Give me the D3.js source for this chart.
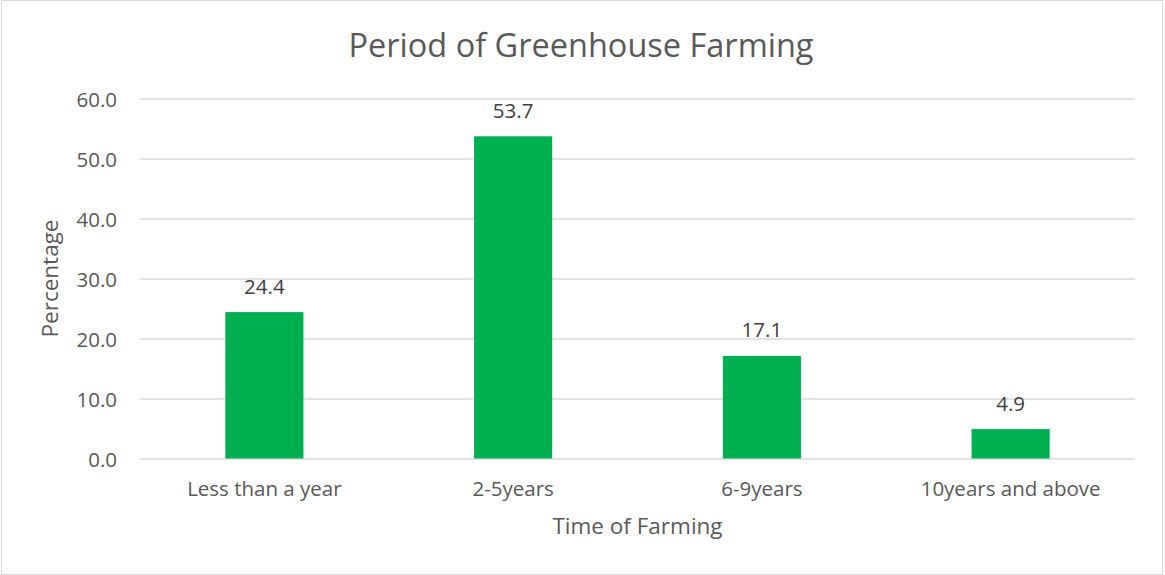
<!DOCTYPE html>
<html>
<head>
<meta charset="utf-8">
<script src="https://cdn.jsdelivr.net/npm/d3@7"></script>
<style>
  html, body { margin: 0; padding: 0; background: #fff; }
  svg text { font-family: "Open Sans", sans-serif; fill: #595959; }
</style>
</head>
<body>
<svg id="chart" width="1165" height="575"></svg>
<script>
// Period of greenhouse farming (percentage of respondents)
const categories = ["Less than a year", "2-5years", "6-9years", "10years and above"];
const percentages = [24.4, 53.7, 17.1, 4.9];
const yTicks = [0, 10, 20, 30, 40, 50, 60];

const svg = d3.select("#chart");
const plot = { left: 140, right: 1135, top: 98.5, bottom: 458.5 };

// outer chart frame
svg.append("rect")
  .attr("x", 1.5).attr("y", 0.5)
  .attr("width", 1161).attr("height", 574)
  .attr("fill", "#fff")
  .attr("stroke", "#d9d9d9");

const x = d3.scaleBand()
  .domain(categories)
  .range([plot.left, plot.right])
  .paddingInner(0.686)
  .paddingOuter(0.343);

const y = d3.scaleLinear()
  .domain([0, 60])
  .range([plot.bottom, plot.top]);

// horizontal gridlines + tick labels
const yAxis = d3.axisLeft(y)
  .tickValues(yTicks)
  .tickSize(-(plot.right - plot.left))
  .tickPadding(23)
  .tickFormat(d3.format(".1f"));

const gy = svg.append("g")
  .attr("transform", `translate(${plot.left},0)`)
  .call(yAxis);
gy.select(".domain").remove();
gy.selectAll(".tick line").attr("stroke", "#d9d9d9").attr("stroke-width", 1.3);
gy.selectAll(".tick text")
  .attr("font-size", 20.5)
  .attr("dy", "0.4em")
  .style("fill", "#595959");

// category axis labels
const xAxis = d3.axisBottom(x).tickSize(0).tickPadding(0);
const gx = svg.append("g")
  .attr("transform", `translate(0,${plot.bottom})`)
  .call(xAxis);
gx.select(".domain").remove();
gx.selectAll(".tick text")
  .attr("font-size", 20.5)
  .attr("y", 37)
  .attr("dy", 0)
  .style("fill", "#595959");

// bars
svg.append("g").selectAll("rect")
  .data(percentages)
  .join("rect")
  .attr("x", (d, i) => x(categories[i]))
  .attr("y", d => y(d))
  .attr("width", x.bandwidth())
  .attr("height", d => y(0) - y(d))
  .attr("fill", "#00b050");

// value labels
svg.append("g").selectAll("text")
  .data(percentages)
  .join("text")
  .attr("x", (d, i) => x(categories[i]) + x.bandwidth() / 2)
  .attr("y", d => y(d) - 18.5)
  .attr("text-anchor", "middle")
  .attr("font-size", 20.5)
  .style("fill", "#404040")
  .text(d => d3.format(".1f")(d));

// chart title
svg.append("text")
  .attr("x", 581)
  .attr("y", 57)
  .attr("text-anchor", "middle")
  .attr("font-size", 32.5)
  .text("Period of Greenhouse Farming");

// axis titles
svg.append("text")
  .attr("x", (plot.left + plot.right) / 2)
  .attr("y", 534)
  .attr("text-anchor", "middle")
  .attr("font-size", 22.5)
  .text("Time of Farming");

svg.append("text")
  .attr("transform", `translate(58,${(plot.top + plot.bottom) / 2}) rotate(-90)`)
  .attr("text-anchor", "middle")
  .attr("font-size", 22.5)
  .text("Percentage");
</script>
</body>
</html>
